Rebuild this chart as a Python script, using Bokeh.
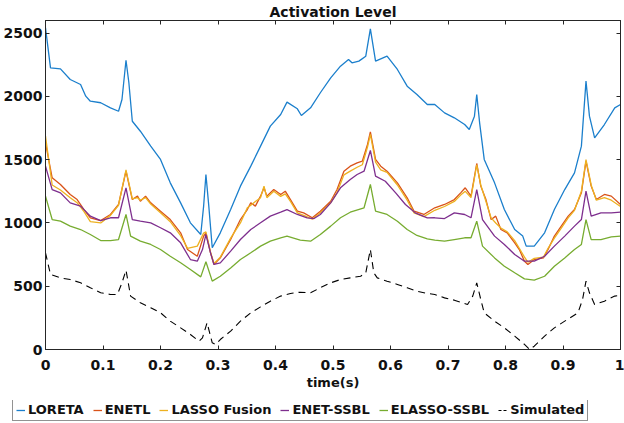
from bokeh.plotting import figure
from bokeh.layouts import column
from bokeh.models import LinearAxis, Legend, LegendItem, Range1d, FixedTicker
from bokeh.embed import file_html
from bokeh.resources import INLINE

# ---------------- data ----------------
loreta_t = [0.0, 0.0087, 0.026, 0.043, 0.061, 0.07, 0.078, 0.096, 0.113, 0.127, 0.133, 0.14, 0.145,
            0.151, 0.165, 0.183, 0.2, 0.217, 0.235, 0.252, 0.27, 0.275, 0.279, 0.284, 0.29, 0.304,
            0.322, 0.339, 0.357, 0.374, 0.391, 0.409, 0.42, 0.438, 0.445, 0.461, 0.478, 0.496,
            0.513, 0.527, 0.533, 0.545, 0.557, 0.565, 0.574, 0.594, 0.612, 0.629, 0.646, 0.664,
            0.677, 0.694, 0.711, 0.729, 0.737, 0.746, 0.75, 0.755, 0.763, 0.781, 0.798, 0.816,
            0.83, 0.836, 0.85, 0.868, 0.885, 0.903, 0.92, 0.932, 0.94, 0.946, 0.955, 0.972, 0.99, 1.0]
loreta_v = [2542, 2226, 2218, 2134, 2094, 2002, 1962, 1950, 1910, 1883, 1976, 2286, 2108,
            1804, 1725, 1607, 1502, 1317, 1159, 1001, 909, 1133, 1383, 1133, 804, 922,
            1106, 1291, 1449, 1607, 1765, 1857, 1955, 1902, 1849, 1910, 2029, 2147,
            2239, 2292, 2266, 2279, 2318, 2534, 2279, 2318, 2213, 2081, 2015, 1936,
            1936, 1870, 1831, 1778, 1739, 1844, 2015, 1791, 1502, 1317, 1106, 948,
            896, 817, 817, 922, 1106, 1264, 1396, 1607, 2121, 1844, 1673, 1778, 1910, 1936]

enetl_t = [0.0, 0.0116, 0.026, 0.043, 0.055, 0.067, 0.078, 0.096, 0.113, 0.127, 0.14, 0.151, 0.16,
           0.165, 0.174, 0.183, 0.2, 0.217, 0.235, 0.247, 0.264, 0.275, 0.279, 0.287, 0.293, 0.304,
           0.322, 0.339, 0.351, 0.357, 0.365, 0.374, 0.38, 0.385, 0.397, 0.409, 0.417, 0.426,
           0.438, 0.449, 0.464, 0.478, 0.496, 0.507, 0.519, 0.53, 0.542, 0.551, 0.56, 0.565,
           0.574, 0.583, 0.594, 0.612, 0.629, 0.641, 0.658, 0.677, 0.694, 0.711, 0.722, 0.73,
           0.74, 0.75, 0.757, 0.766, 0.775, 0.783, 0.792, 0.803, 0.816, 0.824, 0.833, 0.839,
           0.85, 0.866, 0.874, 0.885, 0.897, 0.909, 0.92, 0.932, 0.94, 0.949, 0.958, 0.972, 0.984, 1.0]
enetl_v = [1633, 1357, 1304, 1225, 1185, 1106, 1041, 1019, 1067, 1146, 1409, 1185, 1212,
           1172, 1212, 1159, 1093, 1027, 922, 790, 737, 896, 922, 764, 672, 724,
           869, 1027, 1106, 1159, 1133, 1212, 1278, 1212, 1264, 1225, 1251, 1185,
           1093, 1080, 1041, 1093, 1172, 1264, 1409, 1449, 1475, 1488, 1620, 1720,
           1502, 1449, 1409, 1317, 1199, 1093, 1067, 1120, 1146, 1185, 1238, 1278,
           1212, 1470, 1291, 1185, 1027, 1054, 948, 922, 843, 790, 698, 672,
           711, 724, 790, 896, 975, 1054, 1106, 1238, 1488, 1291, 1185, 1225, 1212, 1146]

lasso_t = enetl_t
lasso_v = [1686, 1300, 1260, 1200, 1160, 1090, 1010, 1000, 1060, 1140, 1420, 1190, 1200,
           1180, 1200, 1150, 1080, 1010, 900, 800, 817, 920, 930, 770, 680, 730,
           880, 1000, 1120, 1140, 1170, 1200, 1290, 1200, 1250, 1210, 1230, 1170,
           1080, 1060, 1030, 1080, 1160, 1240, 1380, 1410, 1440, 1460, 1600, 1700,
           1480, 1420, 1400, 1300, 1180, 1080, 1050, 1100, 1130, 1170, 1220, 1250,
           1200, 1460, 1300, 1170, 1040, 1000, 960, 930, 860, 800, 730, 690,
           720, 730, 800, 880, 960, 1040, 1100, 1250, 1500, 1300, 1180, 1200, 1180, 1130]

enet_ssbl_t = [0.0, 0.0116, 0.026, 0.043, 0.061, 0.078, 0.096, 0.113, 0.127, 0.14, 0.151, 0.165,
               0.183, 0.2, 0.217, 0.235, 0.252, 0.264, 0.273, 0.279, 0.287, 0.293, 0.304, 0.322,
               0.339, 0.357, 0.374, 0.391, 0.409, 0.42, 0.438, 0.455, 0.467, 0.478, 0.496, 0.513,
               0.53, 0.542, 0.554, 0.565, 0.574, 0.591, 0.609, 0.626, 0.643, 0.664, 0.677, 0.694,
               0.711, 0.729, 0.74, 0.75, 0.76, 0.781, 0.798, 0.816, 0.833, 0.85, 0.868, 0.885,
               0.903, 0.92, 0.932, 0.94, 0.949, 0.966, 0.984, 1.0]
enet_ssbl_v = [1449, 1264, 1238, 1159, 1133, 1054, 1019, 1041, 1041, 1278, 1027, 1014,
               1001, 962, 922, 843, 711, 698, 790, 909, 764, 672, 685, 777,
               869, 948, 1001, 1054, 1085, 1106, 1067, 1041, 1035, 1067, 1159, 1278,
               1344, 1383, 1409, 1573, 1370, 1330, 1238, 1146, 1080, 1040, 1041, 1035,
               1080, 1067, 1041, 1264, 1027, 896, 830, 751, 698, 698, 737, 817,
               896, 975, 1027, 1251, 1054, 1080, 1080, 1085]

elasso_t = [0.0, 0.0116, 0.026, 0.043, 0.061, 0.078, 0.096, 0.113, 0.127, 0.14, 0.148, 0.165,
            0.183, 0.2, 0.217, 0.235, 0.252, 0.27, 0.279, 0.29, 0.304, 0.322, 0.339, 0.357,
            0.374, 0.391, 0.409, 0.42, 0.443, 0.461, 0.478, 0.496, 0.513, 0.53, 0.554, 0.565,
            0.574, 0.594, 0.612, 0.629, 0.646, 0.664, 0.677, 0.694, 0.711, 0.729, 0.74, 0.75,
            0.76, 0.781, 0.798, 0.816, 0.833, 0.85, 0.868, 0.885, 0.903, 0.92, 0.932, 0.94,
            0.949, 0.966, 0.984, 1.0]
elasso_v = [1212, 1027, 1014, 975, 948, 909, 861, 861, 869, 1067, 896, 856,
            830, 790, 737, 685, 632, 574, 693, 540, 579, 645, 711, 764,
            817, 856, 883, 896, 864, 856, 909, 975, 1041, 1085, 1120, 1304,
            1093, 1067, 1014, 948, 901, 875, 864, 856, 869, 883, 883, 1014,
            817, 724, 658, 606, 558, 548, 579, 658, 724, 790, 830, 1027,
            869, 869, 890, 896]

sim_t = [0.0, 0.0087, 0.026, 0.043, 0.061, 0.078, 0.096, 0.113, 0.125, 0.133, 0.14, 0.148, 0.165,
         0.183, 0.2, 0.217, 0.235, 0.252, 0.267, 0.273, 0.281, 0.29, 0.296, 0.304, 0.322, 0.339,
         0.357, 0.374, 0.391, 0.409, 0.426, 0.443, 0.461, 0.478, 0.496, 0.513, 0.53, 0.548,
         0.557, 0.565, 0.571, 0.577, 0.594, 0.612, 0.629, 0.646, 0.664, 0.677, 0.694, 0.711,
         0.734, 0.743, 0.75, 0.757, 0.763, 0.781, 0.798, 0.816, 0.833, 0.842, 0.85, 0.868,
         0.885, 0.903, 0.926, 0.934, 0.94, 0.946, 0.955, 0.972, 0.99, 1.0]
sim_v = [764, 593, 566, 553, 527, 488, 448, 435, 435, 527, 627, 422, 369,
         330, 290, 224, 171, 119, 66, 92, 211, 53, 40, 79, 145, 224,
         290, 337, 382, 422, 443, 453, 448, 488, 527, 553, 566, 579,
         606, 790, 606, 566, 540, 514, 488, 461, 443, 435, 408, 390,
         356, 422, 527, 395, 290, 224, 171, 106, 40, 0, 26, 106,
         171, 224, 290, 395, 540, 448, 356, 382, 422, 428]

series_names = ["LORETA", "ENETL", "LASSO Fusion", "ENET-SSBL", "ELASSO-SSBL", "Simulated"]
y_ticks = [0, 500, 1000, 1500, 2000, 2500]
x_ticks = [0, 0.1, 0.2, 0.3, 0.4, 0.5, 0.6, 0.7, 0.8, 0.9, 1.0]

# ---------------- main figure ----------------
FONT = "DejaVu Sans"
p = figure(frame_width=575, frame_height=329, output_backend="svg", toolbar_location=None,
           x_range=Range1d(0, 1), y_range=Range1d(0, 2600),
           title="Activation Level", min_border_left=37, min_border_right=4,
           min_border_top=14, min_border_bottom=51)
p.title.align = "center"
p.title.text_font = FONT
p.title.text_font_size = "14px"
p.title.text_font_style = "bold"
p.title.text_color = "#111111"
p.title.standoff = 2
p.title.offset = 0
p.xgrid.visible = False
p.ygrid.visible = False
p.outline_line_color = "#262626"
p.background_fill_color = "white"
p.border_fill_color = "white"

for ax in p.xaxis + p.yaxis:
    ax.major_tick_in = 4
    ax.major_tick_out = 0
    ax.minor_tick_line_color = None
    ax.axis_line_color = "#262626"
    ax.major_tick_line_color = "#262626"
    ax.major_label_text_font = FONT
    ax.major_label_text_font_size = "14px"
    ax.major_label_text_font_style = "bold"
    ax.major_label_text_color = "#111111"
p.xaxis.ticker = FixedTicker(ticks=x_ticks)
p.yaxis.ticker = FixedTicker(ticks=y_ticks)
p.xaxis.major_label_overrides = {0: "0", 1: "1"}
p.xaxis.axis_label = "time(s)"
p.xaxis.axis_label_text_font = FONT
p.xaxis.axis_label_text_font_size = "13px"
p.xaxis.axis_label_text_font_style = "bold"
p.xaxis.axis_label_text_color = "#111111"
p.xaxis.axis_label_standoff = 2
p.xaxis.major_label_standoff = 10
p.yaxis.major_label_standoff = 3

top = LinearAxis(ticker=FixedTicker(ticks=x_ticks), major_tick_in=4, major_tick_out=0,
                 minor_tick_line_color=None, major_label_overrides={t: "" for t in x_ticks},
                 major_label_standoff=0, axis_line_color="#262626",
                 major_tick_line_color="#262626")
right = LinearAxis(ticker=FixedTicker(ticks=y_ticks), major_tick_in=4, major_tick_out=0,
                   minor_tick_line_color=None, major_label_overrides={t: "" for t in y_ticks},
                   major_label_standoff=0, axis_line_color="#262626",
                   major_tick_line_color="#262626")
p.add_layout(top, "above")
p.add_layout(right, "right")

colors = ["#1b7fcc", "#D95319", "#EDB120", "#7E2F8E", "#77AC30", "#000000"]
data = [(loreta_t, loreta_v), (enetl_t, enetl_v), (lasso_t, lasso_v),
        (enet_ssbl_t, enet_ssbl_v), (elasso_t, elasso_v), (sim_t, sim_v)]
for (t, v), c, name in zip(data, colors, series_names):
    if name == "Simulated":
        p.line(t, v, line_color=c, line_width=1.1, line_dash="7 5")
    else:
        p.line(t, v, line_color=c, line_width=1.3)

# ---------------- legend strip (separate small figure below) ----------------
# same series drawn again, but out of this strip's view range, only to feed the legend keys
pl = figure(frame_width=577, frame_height=21, output_backend="svg", toolbar_location=None,
            x_range=Range1d(0, 1), y_range=Range1d(-200, -100),
            x_axis_type=None, y_axis_type=None,
            min_border_left=36, min_border_right=0, min_border_top=0, min_border_bottom=0)
pl.xgrid.visible = False
pl.ygrid.visible = False
pl.outline_line_color = None
leg_items = []
for (t, v), c, name in zip(data, colors, series_names):
    if name == "Simulated":
        r = pl.line(t, v, line_color=c, line_width=1.2, line_dash="3 2")
    else:
        r = pl.line(t, v, line_color=c, line_width=1.3)
    leg_items.append(LegendItem(label=name, renderers=[r]))

legend = Legend(items=leg_items, orientation="horizontal", location=(0, 0),
                label_text_font=FONT, label_text_font_size="13px", label_text_font_style="bold",
                label_text_color="#111111",
                glyph_width=9, glyph_height=14, label_standoff=3, spacing=9, padding=3,
                margin=0, border_line_color="#262626", border_line_width=1,
                background_fill_color="white", label_height=14)
pl.add_layout(legend)

layout = column(p, pl, spacing=0)
open("out.html", "w").write(file_html(layout, INLINE))
